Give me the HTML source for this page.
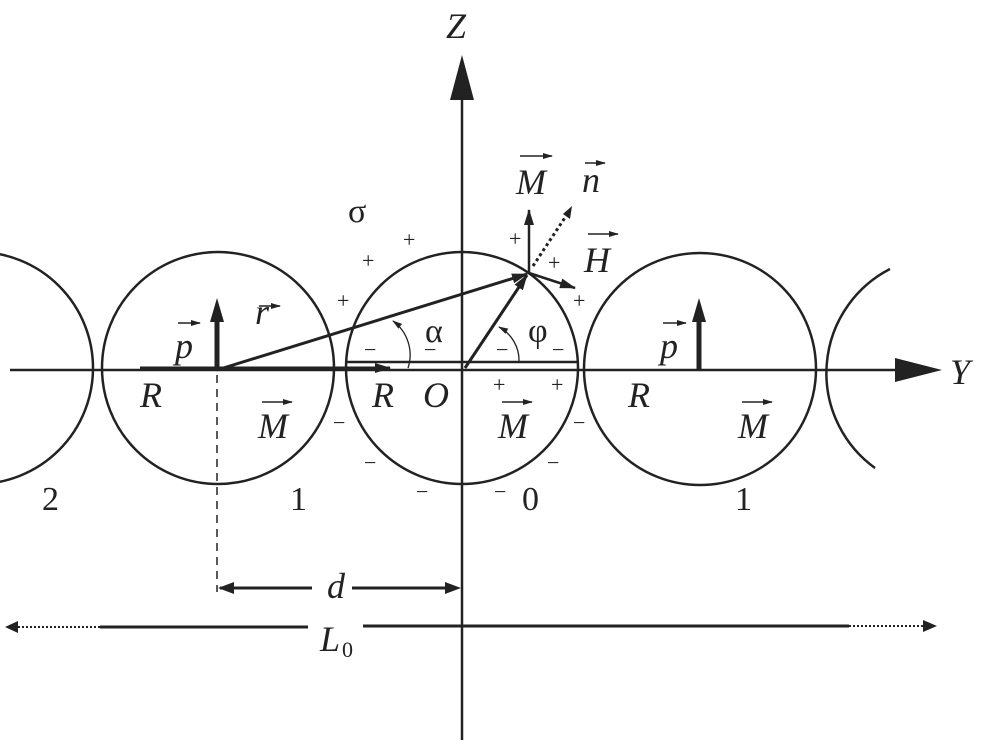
<!DOCTYPE html>
<html><head><style>html,body{margin:0;padding:0;background:#fff}svg{display:block}
text{font-family:"Liberation Serif",serif;fill:#222}</style></head><body>
<svg width="983" height="748" viewBox="0 0 983 748" xmlns="http://www.w3.org/2000/svg">
<defs>
<marker id="sa" markerWidth="16" markerHeight="10" refX="15" refY="5" orient="auto" markerUnits="userSpaceOnUse"><path d="M0,0L16,5L0,10z" fill="#222"/></marker>
<marker id="small" markerWidth="10" markerHeight="6" refX="9" refY="3" orient="auto" markerUnits="userSpaceOnUse"><path d="M0,0L10,3L0,6z" fill="#222"/></marker>
</defs>
<g stroke="#222" fill="none" stroke-width="2.5">
<circle cx="-23" cy="368" r="116"/>
<circle cx="218" cy="368" r="116"/>
<circle cx="462" cy="368" r="116"/>
<circle cx="700" cy="369" r="116"/>
<path d="M890,269 A117,117 0 0 0 875,468"/>
</g>
<line x1="10" y1="370" x2="900" y2="370" stroke="#222" stroke-width="2.5"/>
<path d="M895,358L942,370L895,382z" fill="#222"/>
<line x1="462" y1="100" x2="462" y2="740" stroke="#222" stroke-width="2.5"/>
<path d="M450,100L462,55L474,100z" fill="#222"/>
<line x1="346" y1="362" x2="578" y2="362" stroke="#222" stroke-width="2.5"/>
<line x1="140" y1="368" x2="390" y2="368" stroke="#222" stroke-width="3" marker-end="url(#sa)"/>
<line x1="217" y1="370" x2="217" y2="320" stroke="#222" stroke-width="5"/>
<path d="M210,322L217,298L224,322z" fill="#222"/>
<line x1="699" y1="370" x2="699" y2="320" stroke="#222" stroke-width="5"/>
<path d="M692,322L699,298L706,322z" fill="#222"/>
<line x1="217" y1="370" x2="527" y2="274" stroke="#222" stroke-width="3" marker-end="url(#sa)"/>
<line x1="465" y1="368" x2="527" y2="275" stroke="#222" stroke-width="3" marker-end="url(#sa)"/>
<line x1="529" y1="273" x2="529" y2="210" stroke="#222" stroke-width="2.5" marker-end="url(#sa)"/>
<line x1="533" y1="266" x2="570" y2="210" stroke="#222" stroke-width="3" stroke-dasharray="3,3"/>
<path d="M563,214L572,206L570,219z" fill="#222"/>
<line x1="529" y1="273" x2="575" y2="288" stroke="#222" stroke-width="2.5" marker-end="url(#sa)"/>
<path d="M408,368 A42,42 0 0 0 393,321" stroke="#222" stroke-width="1.3" fill="none" marker-end="url(#small)"/>
<path d="M519,362 A38,38 0 0 0 499,327" stroke="#222" stroke-width="1.3" fill="none" marker-end="url(#small)"/>
<line x1="217" y1="375" x2="217" y2="592" stroke="#222" stroke-width="1.5" stroke-dasharray="8,6"/>
<line x1="220" y1="588" x2="312" y2="588" stroke="#222" stroke-width="3"/>
<path d="M218,588L234,582L234,594z" fill="#222"/>
<line x1="352" y1="588" x2="447" y2="588" stroke="#222" stroke-width="3"/>
<path d="M461,588L445,582L445,594z" fill="#222"/>
<path d="M5,627L18,621L18,633z" fill="#222"/>
<line x1="18" y1="627" x2="100" y2="627" stroke="#222" stroke-width="2" stroke-dasharray="2,2"/>
<line x1="100" y1="627" x2="308" y2="627" stroke="#222" stroke-width="3"/>
<line x1="363" y1="626" x2="849" y2="626" stroke="#222" stroke-width="3"/>
<line x1="849" y1="626" x2="925" y2="626" stroke="#222" stroke-width="2" stroke-dasharray="2,2"/>
<path d="M937,626L923,620L923,632z" fill="#222"/>
<g font-style="italic" font-size="36">
<text x="446" y="38">Z</text>
<text x="950" y="384">Y</text>
<text x="140" y="407">R</text>
<text x="372" y="407">R</text>
<text x="423" y="407">O</text>
<text x="628" y="407">R</text>
<text x="327" y="598">d</text>
<text x="320" y="651">L</text>
</g>
<text x="342" y="657" font-size="22">0</text>
<g font-style="italic" font-size="36">
<text x="258" y="438">M</text><text x="498" y="438">M</text><text x="738" y="438">M</text>
<text x="516" y="194">M</text>
<text x="584" y="272">H</text>
<text x="175" y="358">p</text><text x="660" y="358">p</text>
<text x="255" y="324">r</text>
<text x="582" y="192">n</text>
</g>
<g stroke="#222" stroke-width="1.5">
<line x1="262" y1="402" x2="292" y2="402" marker-end="url(#small)"/>
<line x1="502" y1="402" x2="532" y2="402" marker-end="url(#small)"/>
<line x1="742" y1="402" x2="772" y2="402" marker-end="url(#small)"/>
<line x1="520" y1="156" x2="552" y2="156" marker-end="url(#small)"/>
<line x1="588" y1="234" x2="618" y2="234" marker-end="url(#small)"/>
<line x1="178" y1="323" x2="200" y2="323" marker-end="url(#small)"/>
<line x1="663" y1="323" x2="686" y2="323" marker-end="url(#small)"/>
<line x1="259" y1="306" x2="280" y2="306" marker-end="url(#small)"/>
<line x1="585" y1="163" x2="605" y2="163" marker-end="url(#small)"/>
</g>
<g font-size="34">
<text x="348" y="222">σ</text>
<text x="425" y="342">α</text>
<text x="528" y="342">φ</text>
<text x="42" y="510">2</text>
<text x="290" y="510">1</text>
<text x="522" y="510">0</text>
<text x="735" y="510">1</text>
</g>
<g font-size="22">
<text x="403" y="247">+</text><text x="362" y="268">+</text><text x="337" y="308">+</text>
<text x="509" y="246">+</text><text x="548" y="270">+</text><text x="573" y="308">+</text>
<text x="493" y="392">+</text><text x="551" y="392">+</text>
<text x="364" y="357">−</text><text x="424" y="357">−</text><text x="496" y="357">−</text><text x="552" y="357">−</text>
<text x="333" y="430">−</text><text x="364" y="470">−</text><text x="416" y="499">−</text>
<text x="494" y="499">−</text><text x="547" y="470">−</text><text x="573" y="430">−</text>
</g>
</svg>
</body></html>
